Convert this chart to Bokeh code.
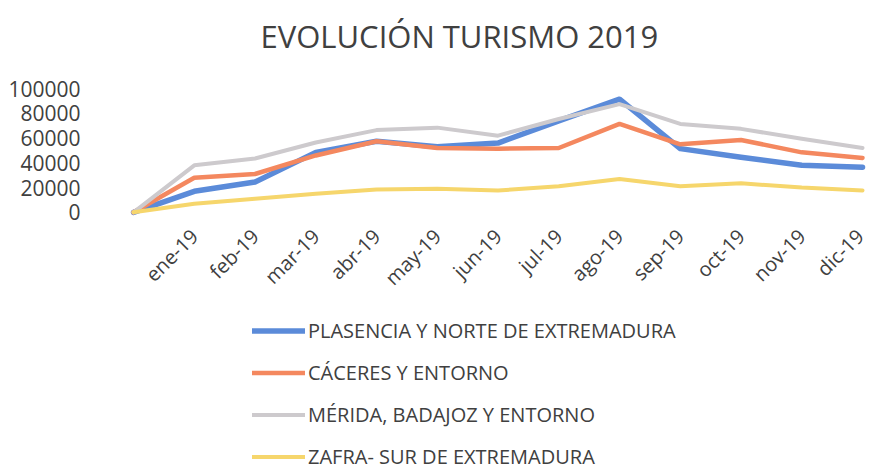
import math
import numpy as np
from bokeh.plotting import figure
from bokeh.layouts import column
from bokeh.models import Legend, LegendItem, FixedTicker, Range1d
from bokeh.embed import file_html
from bokeh.resources import INLINE

# ---- data ----
labels = ["", "ene-19", "feb-19", "mar-19", "abr-19", "may-19", "jun-19",
          "jul-19", "ago-19", "sep-19", "oct-19", "nov-19", "dic-19"]
plasencia = [0, 17000, 24500, 48500, 57500, 53000, 56000, 74000, 91500, 51500, 44500, 38000, 36500]
caceres   = [0, 28000, 31000, 46000, 57500, 52000, 51500, 52000, 71500, 55000, 58500, 48500, 44000]
merida    = [0, 38000, 43500, 56500, 66500, 68500, 62000, 75500, 87500, 71500, 67500, 59500, 52000]
zafra     = [0, 7000, 11000, 15000, 18500, 19000, 17700, 21000, 27000, 21000, 23500, 20000, 17700]
series_names = ["PLASENCIA Y NORTE DE EXTREMADURA", "CÁCERES Y ENTORNO",
                "MÉRIDA, BADAJOZ Y ENTORNO", "ZAFRA- SUR DE EXTREMADURA"]
y_ticks = [0, 20000, 40000, 60000, 80000, 100000]
title_text = "EVOLUCIÓN TURISMO 2019"

x = list(range(len(labels)))
all_series = [plasencia, caceres, merida, zafra]

colors = ["#5b8bd9", "#f4885f", "#cdcacd", "#f6d66c"]
widths = [5.5, 4.5, 4, 4]
FONT = "Open Sans"
TXT = "#404040"

def bare(fig):
    fig.outline_line_color = None
    fig.background_fill_color = "white"
    fig.border_fill_color = "white"
    fig.xgrid.grid_line_color = None
    fig.ygrid.grid_line_color = None

# ---- title strip ----
p0 = figure(width=869, height=72, output_backend="svg", toolbar_location=None,
            x_axis_type=None, y_axis_type=None, title=title_text,
            x_range=Range1d(0, 1), y_range=Range1d(0, 1),
            min_border_left=0, min_border_right=0, min_border_top=0, min_border_bottom=0)
bare(p0)
p0.title.text_font = FONT
p0.title.text_font_size = "31px"
p0.title.text_font_style = "normal"
p0.title.text_color = TXT
p0.title.align = "left"
p0.title.vertical_align = "bottom"
p0.title.standoff = 24
p0.title.offset = 165

# ---- chart ----
p = figure(width=869, height=238, output_backend="svg", toolbar_location=None,
           x_range=Range1d(-0.626, 12.115), y_range=Range1d(-5000, 105000),
           min_border_left=95, min_border_right=0, min_border_top=10,
           min_border_bottom=92)
bare(p)

p.yaxis.ticker = FixedTicker(ticks=y_ticks)
p.yaxis.axis_line_color = None
p.yaxis.major_tick_line_color = None
p.yaxis.minor_tick_line_color = None
p.yaxis.major_tick_out = 0
p.yaxis.major_label_standoff = 15
p.yaxis.major_label_text_font = FONT
p.yaxis.major_label_text_font_size = "21px"
p.yaxis.major_label_text_color = TXT
p.yaxis.formatter.use_scientific = False

p.xaxis.ticker = FixedTicker(ticks=x[1:])
p.xaxis.major_label_overrides = {i: labels[i] for i in x}
p.xaxis.axis_line_color = None
p.xaxis.major_tick_line_color = None
p.xaxis.minor_tick_line_color = None
p.xaxis.major_tick_out = 0
p.xaxis.major_label_standoff = 14
p.xaxis.major_label_orientation = math.pi / 4
p.xaxis.major_label_text_font = FONT
p.xaxis.major_label_text_font_size = "20px"
p.xaxis.major_label_text_color = TXT

for vals, c, w in zip(all_series, colors, widths):
    p.line(x, vals, line_color=c, line_width=w, line_cap="round", line_join="round")

# ---- legend strip (its lines lie outside its view; only the legend shows) ----
p2 = figure(width=869, height=160, output_backend="svg", toolbar_location=None,
            x_axis_type=None, y_axis_type=None,
            x_range=Range1d(-100, -99), y_range=Range1d(0, 1),
            min_border_left=0, min_border_right=0, min_border_top=0, min_border_bottom=0)
bare(p2)
items = []
for name, vals, c, w in zip(series_names, all_series, colors, widths):
    r = p2.line(x, vals, line_color=c, line_width=w, line_cap="round")
    items.append(LegendItem(label=name, renderers=[r]))
legend = Legend(items=items, orientation="vertical", location=(157, 0),
                label_text_font=FONT, label_text_font_size="20px", label_text_color=TXT,
                glyph_width=53, glyph_height=27, label_height=27, label_standoff=3,
                spacing=15, padding=0, margin=0, border_line_color=None,
                background_fill_alpha=0)
p2.add_layout(legend, "center")

layout = column(p0, p, p2, spacing=0)
open("out.html", "w").write(file_html(layout, INLINE))
